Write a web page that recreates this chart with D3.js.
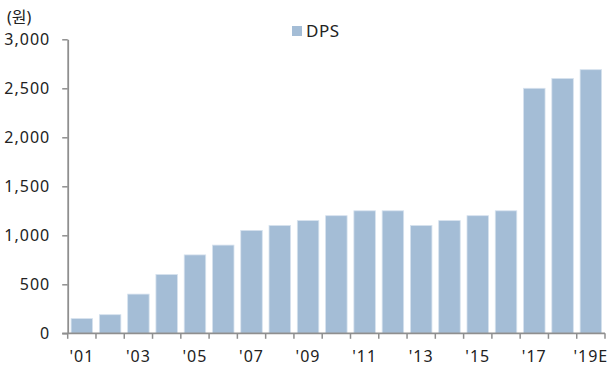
<!DOCTYPE html>
<html>
<head>
<meta charset="utf-8">
<script src="https://cdn.jsdelivr.net/npm/d3@7"></script>
<style>
  html, body { margin: 0; padding: 0; background: #fff; }
  svg { display: block; }
  text { font-family: "Noto Sans", "Noto Sans CJK KR", sans-serif; fill: #222; }
</style>
</head>
<body>
<svg id="chart" width="611" height="367"></svg>
<script>
// Dividend per share by year (KRW)
const years = ["'01","'02","'03","'04","'05","'06","'07","'08","'09","'10",
               "'11","'12","'13","'14","'15","'16","'17","'18","'19E"];
const dps = [150, 190, 400, 600, 800, 900, 1050, 1100, 1150, 1200,
             1250, 1250, 1100, 1150, 1200, 1250, 2500, 2600, 2690];
const yTicks = [0, 500, 1000, 1500, 2000, 2500, 3000];
const seriesName = "DPS";
const unitLabel = "(원)";

const svg = d3.select("#chart");
const plotLeft = 67.7, plotRight = 605, plotTop = 39.3, plotBottom = 333.3;
const axisColor = "#8f8f8f";
const barColor = "#a4bdd6";

const x = d3.scaleBand().domain(years).range([plotLeft, plotRight])
  .paddingInner(0.24).paddingOuter(0.12);
const y = d3.scaleLinear().domain([0, 3000]).range([plotBottom, plotTop]);

// bars
svg.append("g").selectAll("rect").data(dps).join("rect")
  .attr("x", (d, i) => x(years[i]))
  .attr("width", x.bandwidth())
  .attr("y", d => y(d))
  .attr("height", d => y(0) - y(d))
  .attr("fill", barColor)
  .attr("stroke", "#d6e2ee")
  .attr("stroke-width", 0.8);

// y axis
const yAxis = svg.append("g").attr("transform", `translate(${plotLeft},0)`)
  .call(d3.axisLeft(y).tickValues(yTicks).tickFormat(d3.format(","))
    .tickSize(5.5).tickSizeOuter(0).tickPadding(12));
yAxis.select(".domain").attr("stroke", axisColor).attr("stroke-width", 1.8);
yAxis.selectAll(".tick line").attr("stroke", axisColor).attr("stroke-width", 1.5);
yAxis.selectAll(".tick text").attr("font-size", 16).attr("letter-spacing", 1)
  .attr("fill", "#222").attr("font-family", "'Noto Sans', sans-serif");

// x axis: baseline, boundary ticks, labels on every other year
const xg = svg.append("g");
xg.append("line").attr("x1", plotLeft - 5.5).attr("x2", plotRight)
  .attr("y1", y(0)).attr("y2", y(0))
  .attr("stroke", axisColor).attr("stroke-width", 1.8);
const step = x.step();
const bounds = d3.range(years.length + 1).map(i => plotLeft + i * step);
xg.selectAll("line.tick").data(bounds).join("line").attr("class", "tick")
  .attr("x1", d => d).attr("x2", d => d)
  .attr("y1", y(0)).attr("y2", y(0) + 5.5)
  .attr("stroke", axisColor).attr("stroke-width", 1.5);
xg.selectAll("text").data(years.filter((d, i) => i % 2 === 0)).join("text")
  .attr("x", d => x(d) + x.bandwidth() / 2)
  .attr("y", 362)
  .attr("text-anchor", "middle")
  .attr("font-size", 16).attr("letter-spacing", 1)
  .text(d => d);

// unit label
svg.append("text").attr("x", 7).attr("y", 23)
  .attr("font-size", 16).attr("font-family", "'Noto Sans CJK KR', sans-serif")
  .text(unitLabel);

// legend
svg.append("rect").attr("x", 292).attr("y", 26).attr("width", 10).attr("height", 10)
  .attr("fill", barColor);
svg.append("text").attr("x", 306).attr("y", 37)
  .attr("font-size", 17).attr("letter-spacing", 0.5).text(seriesName);
</script>
</body>
</html>
